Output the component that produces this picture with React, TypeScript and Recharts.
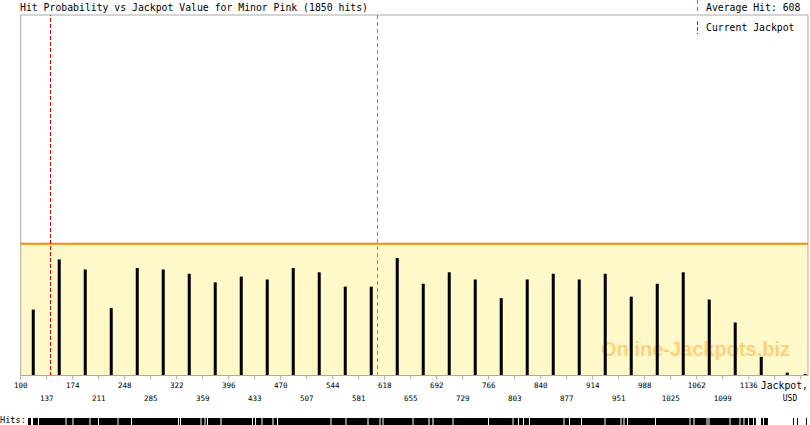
import React from 'react';
import { ComposedChart, Bar, Line, XAxis, YAxis, ReferenceLine, ReferenceArea } from 'recharts';

// bin centres (jackpot, USD) and hits per bin
const binCenters = [
  118.5, 155.5, 192.5, 229.5, 266.5, 303.5, 340.5, 377.5, 414.5, 451.5, 488.5,
  525.5, 562.5, 599.5, 636.5, 673.5, 710.5, 747.5, 784.5, 821.5, 858.5, 895.5,
  932.5, 969.5, 1006.5, 1043.5, 1080.5, 1117.5, 1154.5, 1191.5, 1217,
];
const hitCounts = [
  46, 81, 74, 47, 75, 74, 71, 65, 69, 67, 75, 72, 62, 62, 82, 64,
  72, 67, 54, 67, 71, 67, 71, 55, 64, 72, 53, 37, 13, 2, 1,
];
const tickValues = [
  100, 137, 174, 211, 248, 285, 322, 359, 396, 433, 470, 507, 544, 581, 618, 655,
  692, 729, 766, 803, 840, 877, 914, 951, 988, 1025, 1062, 1099, 1136, 1173, 1210,
];
const hiddenTickLabels = [1173, 1210];

// ranges of jackpot values where single hits were recorded (bottom strip)
const hitRanges = [
  [110.4, 114.7], [117.5, 124.6], [126.0, 163.8], [165.2, 173.7], [175.1, 197.9],
  [199.3, 210.0], [211.4, 237.8], [239.2, 257.0], [258.4, 323.9], [325.3, 326.7],
  [328.1, 355.9], [357.3, 361.6], [363.0, 365.1], [366.5, 384.3], [385.8, 429.2],
  [430.6, 433.5], [434.9, 442.7], [444.1, 458.3], [459.8, 464.7], [466.2, 540.9],
  [542.3, 562.2], [563.6, 593.5], [595.0, 610.6], [612.0, 614.9], [616.3, 657.6],
  [659.0, 680.3], [681.8, 686.0], [687.5, 714.5], [715.9, 765.0], [766.4, 799.9],
  [801.3, 807.7], [809.1, 814.8], [816.2, 823.3], [824.7, 872.5], [873.9, 880.3],
  [881.7, 897.4], [898.8, 930.8], [932.2, 953.6], [955.0, 957.8], [959.3, 962.8],
  [964.2, 1002.7], [1004.1, 1051.8], [1053.2, 1057.4], [1058.9, 1076.0], [1077.4, 1078.8],
  [1080.2, 1108.7], [1110.1, 1122.9], [1124.3, 1128.6], [1130.0, 1135.0], [1136.4, 1142.1],
  [1143.5, 1146.3], [1153.5, 1156.3], [1157.7, 1163.4], [1199.0, 1200.4], [1204.7, 1206.1],
  [1217.5, 1218.9],
];

const averageHit = 608;
const currentJackpot = 142;
const hitBand = 92;
const xDomain = [100, 1220.4];
const yMax = 251.5;

const data = binCenters.map((c, i) => ({ jackpot: c, hits: hitCounts[i] }));
const rugData = hitRanges.map(([a, b]) => ({ jackpot: (a + b) / 2, level: 0.5 }));

const mono = '"DejaVu Sans Mono", monospace';
const blue = '#2aa8f0';
const red = '#e00000';

const StickBar = (props: any) => {
  const { x, y, width, height } = props;
  if (!height || height <= 0) return null;
  return <rect x={x + width / 2 - 1.5} y={y} width={3} height={height} fill="#000" />;
};

const JackpotTick = (props: any) => {
  const { x, y, payload, index } = props;
  if (hiddenTickLabels.includes(payload.value)) return null;
  const lower = index % 2 === 1;
  return (
    <text x={x} y={y} dy={lower ? 19 : 6.5} textAnchor="middle" fontFamily={mono} fontSize={7.5} fill="#000">
      {payload.value}
    </text>
  );
};

const Watermark = (props: any) => {
  const vb = props.viewBox;
  return (
    <text
      x={vb.x + vb.width - 18}
      y={vb.y + vb.height - 20}
      textAnchor="end"
      fontFamily='"Liberation Sans", Arial, sans-serif'
      fontWeight="bold"
      fontSize={20}
      fill="#ffb84d"
      fillOpacity={0.65}
    >
      Online-Jackpots.biz
    </text>
  );
};

export default function App() {
  return (
    <div style={{ position: 'absolute', left: 0, top: 0, width: 810, height: 425, background: '#fff', overflow: 'hidden' }}>
      <ComposedChart width={810} height={425} data={data} margin={{ top: 15, right: 2, left: 20.7, bottom: 0 }}>
        <XAxis
          dataKey="jackpot"
          type="number"
          domain={xDomain}
          ticks={tickValues}
          interval={0}
          allowDataOverflow
          height={49.5}
          stroke="#aaa"
          tickSize={4}
          tick={JackpotTick}
        />
        <YAxis hide domain={[0, yMax]} allowDataOverflow />
        <ReferenceArea x1={xDomain[0]} x2={xDomain[1]} y1={0} y2={hitBand} fill="#fff8c8" fillOpacity={1} stroke="none" label={<Watermark />} />
        <ReferenceArea x1={xDomain[0]} x2={xDomain[1]} y1={0} y2={yMax} fill="none" stroke="#aaa" strokeWidth={1} />
        <ReferenceLine y={hitBand} stroke="#f28c00" strokeWidth={2} />
        <Bar dataKey="hits" isAnimationActive={false} shape={StickBar} barSize={3} />
        <ReferenceLine x={currentJackpot} stroke={red} strokeDasharray="4 2" shapeRendering="crispEdges" />
        <ReferenceLine x={averageHit} stroke={blue} strokeWidth={1.2} strokeDasharray="4 3" shapeRendering="crispEdges" />
      </ComposedChart>

      <div style={{ position: 'absolute', left: 0, top: 418 }}>
        <ComposedChart width={810} height={7} data={rugData} margin={{ top: 0, right: 2, left: 20.7, bottom: 0 }}>
          <XAxis dataKey="jackpot" type="number" domain={xDomain} hide allowDataOverflow />
          <YAxis hide domain={[0, 1]} />
          <Line dataKey="level" stroke="none" dot={false} isAnimationActive={false} />
          {hitRanges.map(([a, b], i) => (
            <ReferenceArea key={i} x1={a} x2={b} y1={0} y2={1} fill="#000" fillOpacity={1} stroke="none" ifOverflow="extendDomain" />
          ))}
        </ComposedChart>
      </div>

      <svg width={810} height={425} style={{ position: 'absolute', left: 0, top: 0, pointerEvents: 'none' }}>
        <text x={20} y={10.5} fontFamily={mono} fontSize={9.8} fill="#000">
          Hit Probability vs Jackpot Value for Minor Pink (1850 hits)
        </text>
        <line x1={697.5} y1={0} x2={697.5} y2={11} stroke={blue} strokeWidth={1.2} strokeDasharray="4 3" />
        <text x={706} y={10.5} fontFamily={mono} fontSize={9.8} fill="#000">Average Hit: 608</text>
        <line x1={697.5} y1={21} x2={697.5} y2={34} stroke={red} strokeDasharray="4 2" />
        <text x={706} y={30.5} fontFamily={mono} fontSize={9.8} fill="#000">Current Jackpot</text>
        <text x={808} y={388.5} textAnchor="end" fontFamily={mono} fontSize={9.8} fill="#000">Jackpot,</text>
        <text x={790} y={400.5} textAnchor="middle" fontFamily={mono} fontSize={8} fill="#000">USD</text>
        <text x={0} y={422.5} fontFamily={mono} fontSize={8.6} fill="#000">Hits:</text>
      </svg>
    </div>
  );
}
